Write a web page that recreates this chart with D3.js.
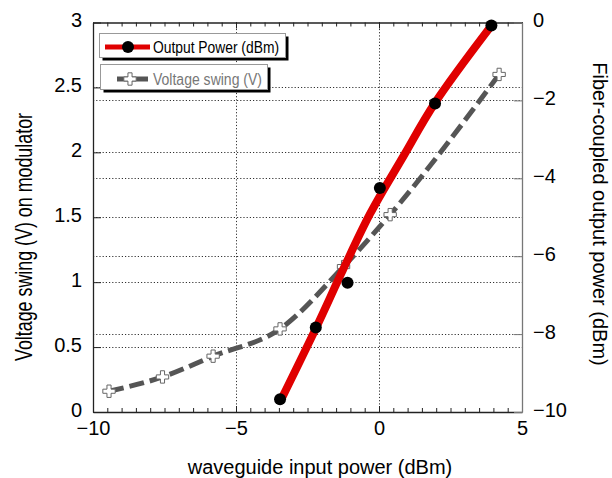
<!DOCTYPE html>
<html>
<head>
<meta charset="utf-8">
<script src="https://cdn.jsdelivr.net/npm/d3@7"></script>
<style>
  body { margin: 0; background: #fff; }
  svg text { font-family: "Liberation Sans", Arial, sans-serif; }
</style>
</head>
<body>
<svg id="chart" width="612" height="478"></svg>
<script>
// data
var powerIn = [-3.46, -2.21, -1.1, 0.03, 1.96, 3.93];           // dBm, black dots
var powerOut = [-9.67, -7.83, -6.68, -4.25, -2.08, -0.08];      // dBm (right axis)
var fitIn = [-3.46, -2.2, -1.26, -0.31, 0.84, 1.96, 3.93];      // red fitted line
var fitOut = [-9.74, -7.84, -6.35, -4.91, -3.45, -2.06, -0.08];
var swingIn = [-9.44, -7.57, -5.8, -3.46, -1.24, 0.39, 4.2];    // dBm
var swingV = [0.16, 0.27, 0.43, 0.64, 1.12, 1.52, 2.6];         // V (left axis)

var xTicks = [-10, -5, 0, 5];
var xMinor = [-10, -9.5, -9, -8.5, -8, -7.5, -7, -6.5, -6, -5.5, -5, -4.5, -4, -3.5, -3, -2.5, -2, -1.5, -1, -0.5, 0, 0.5, 1, 1.5, 2, 2.5, 3, 3.5, 4, 4.5, 5];
var leftTicks = [0, 0.5, 1, 1.5, 2, 2.5, 3];
var rightTicks = [-10, -8, -6, -4, -2, 0];

var svg = d3.select('#chart');
var pad = {l: 93, r: 522, t: 22.5, b: 412};

var x = d3.scaleLinear().domain([-10, 5]).range([pad.l, pad.r]);
var yL = d3.scaleLinear().domain([0, 3]).range([pad.b, pad.t]);
var yR = d3.scaleLinear().domain([-10, 0]).range([pad.b, pad.t]);

// grid lines (dotted)
var grid = svg.append('g').attr('stroke', '#333').attr('stroke-width', 1).attr('stroke-dasharray', '1.2,2');
grid.selectAll('.gl').data([0.5, 1, 1.5, 2, 2.5]).join('line')
  .attr('x1', pad.l).attr('x2', pad.r)
  .attr('y1', d => Math.round(yL(d)) + 0.5).attr('y2', d => Math.round(yL(d)) + 0.5);
grid.selectAll('.gr').data([-8, -6, -4, -2]).join('line')
  .attr('x1', pad.l).attr('x2', pad.r)
  .attr('y1', d => Math.round(yR(d)) + 0.5).attr('y2', d => Math.round(yR(d)) + 0.5);
grid.selectAll('.gx').data([-5, 0]).join('line')
  .attr('y1', pad.t).attr('y2', pad.b)
  .attr('x1', d => Math.round(x(d)) + 0.5).attr('x2', d => Math.round(x(d)) + 0.5);

// axes
function style(g, col) {
  g.select('.domain').attr('stroke', col).attr('stroke-width', 1.3);
  g.selectAll('.tick line').attr('stroke', col);
  g.selectAll('.tick text').attr('font-size', 20).attr('fill', '#000');
}

svg.append('g').attr('transform', 'translate(0,' + pad.b + ')')
  .call(d3.axisBottom(x).tickValues(xMinor).tickSize(-4).tickSizeOuter(0).tickFormat(''))
  .call(style, '#222');
svg.append('g').attr('transform', 'translate(0,' + pad.b + ')')
  .call(d3.axisBottom(x).tickValues(xTicks).tickSize(-6).tickSizeOuter(0).tickPadding(9).tickFormat(d3.format('d')))
  .call(style, '#222')
  .call(g => g.select('.domain').remove());
svg.append('g').attr('transform', 'translate(0,' + pad.t + ')')
  .call(d3.axisTop(x).tickValues(xMinor).tickSize(-4).tickSizeOuter(0).tickFormat(''))
  .call(style, '#222');
svg.append('g').attr('transform', 'translate(0,' + pad.t + ')')
  .call(d3.axisTop(x).tickValues(xTicks).tickSize(-6).tickSizeOuter(0).tickFormat(''))
  .call(style, '#222')
  .call(g => g.select('.domain').remove());
svg.append('g').attr('transform', 'translate(' + pad.l + ',0)')
  .call(d3.axisLeft(yL).tickValues(leftTicks).tickSize(-8).tickSizeOuter(0).tickPadding(11).tickFormat(d3.format('')))
  .call(style, '#222')
  .call(g => g.selectAll('.tick text').attr('dy', '0.22em'));
svg.append('g').attr('transform', 'translate(' + pad.r + ',0)')
  .call(d3.axisRight(yR).tickValues(rightTicks).tickSize(-8).tickSizeOuter(0).tickPadding(11).tickFormat(d3.format('d')))
  .call(style, '#777')
  .call(g => g.selectAll('.tick text').attr('dy', '0.22em'));

// axis titles
svg.append('text').text('waveguide input power (dBm)')
  .attr('x', 320).attr('y', 474).attr('text-anchor', 'middle').attr('font-size', 20);
svg.append('text').text('Voltage swing (V) on modulator')
  .attr('transform', 'translate(32,237) rotate(-90)')
  .attr('text-anchor', 'middle').attr('font-size', 24)
  .attr('textLength', 248).attr('lengthAdjust', 'spacingAndGlyphs');
svg.append('text').text('Fiber-coupled output power (dBm)')
  .attr('transform', 'translate(593,214) rotate(90)')
  .attr('text-anchor', 'middle').attr('font-size', 20);

// voltage swing series
var swing = swingIn.map((d, i) => ({x: d, y: swingV[i]}));
svg.append('path').datum(swing)
  .attr('fill', 'none').attr('stroke', '#555').attr('stroke-width', 5)
  .attr('stroke-dasharray', '15,6')
  .attr('d', d3.line().x(d => x(d.x)).y(d => yL(d.y)).curve(d3.curveMonotoneX));
var cross = d3.symbol().type(d3.symbolCross).size(85);
svg.selectAll('.plus').data(swing).join('path')
  .attr('transform', d => 'translate(' + x(d.x) + ',' + yL(d.y) + ')')
  .attr('d', cross).attr('fill', '#fff').attr('stroke', '#666').attr('stroke-width', 1);

// output power series
var fit = fitIn.map((d, i) => ({x: d, y: fitOut[i]}));
svg.append('path').datum(fit)
  .attr('fill', 'none').attr('stroke', '#e00000').attr('stroke-width', 8)
  .attr('d', d3.line().x(d => x(d.x)).y(d => yR(d.y)).curve(d3.curveCatmullRom));
var pts = powerIn.map((d, i) => ({x: d, y: powerOut[i]}));
svg.selectAll('.dot').data(pts).join('circle')
  .attr('cx', d => x(d.x)).attr('cy', d => yR(d.y)).attr('r', 6).attr('fill', '#000');

// legend boxes
function legendBox(x0, y0, w, h) {
  svg.append('rect').attr('x', x0 + 3).attr('y', y0 + 3).attr('width', w).attr('height', h).attr('fill', '#000');
  svg.append('rect').attr('x', x0).attr('y', y0).attr('width', w).attr('height', h)
    .attr('fill', '#fff').attr('stroke', '#999').attr('stroke-width', 1);
}
legendBox(99.5, 33.5, 186, 24);
svg.append('line').attr('x1', 105).attr('x2', 150).attr('y1', 47).attr('y2', 47)
  .attr('stroke', '#e00000').attr('stroke-width', 5);
svg.append('circle').attr('cx', 128).attr('cy', 47).attr('r', 6).attr('fill', '#000');
svg.append('text').text('Output Power (dBm)').attr('x', 153).attr('y', 53)
  .attr('font-size', 16).attr('textLength', 126).attr('lengthAdjust', 'spacingAndGlyphs');

legendBox(100.5, 64.5, 167, 25);
svg.append('line').attr('x1', 117).attr('x2', 148).attr('y1', 79).attr('y2', 79)
  .attr('stroke', '#555').attr('stroke-width', 5);
svg.append('path').attr('transform', 'translate(130,79)').attr('d', cross)
  .attr('fill', '#fff').attr('stroke', '#666');
svg.append('text').text('Voltage swing (V)').attr('x', 153).attr('y', 85)
  .attr('font-size', 16).attr('fill', '#777').attr('textLength', 109).attr('lengthAdjust', 'spacingAndGlyphs');
</script>
</body>
</html>
